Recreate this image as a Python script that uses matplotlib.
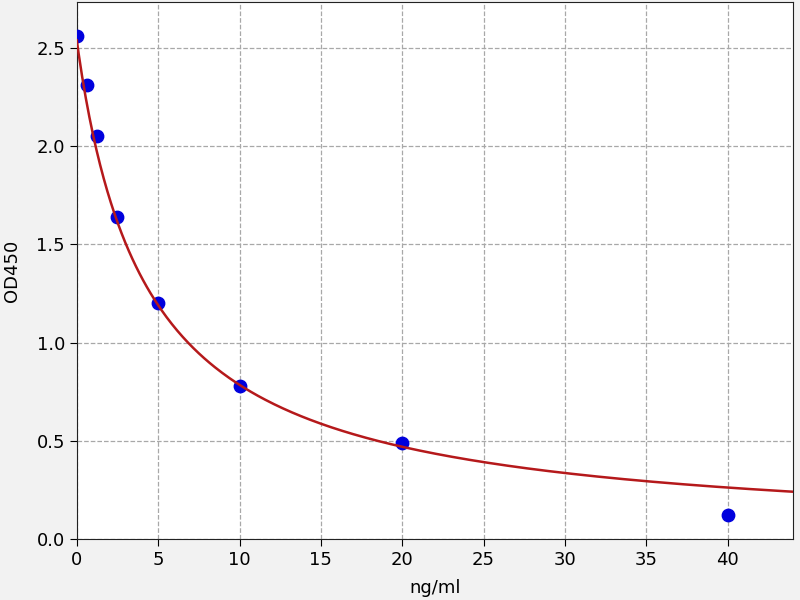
import numpy as np
import matplotlib.pyplot as plt

# Standard concentrations and measured OD
conc = [0, 0.625, 1.25, 2.5, 5, 10, 20, 40]
od450 = [2.56, 2.31, 2.05, 1.64, 1.20, 0.78, 0.49, 0.12]

# Fitted 4PL parameters (top, slope, mid, bottom)
top, slope, mid, bottom = 2.54, 0.98, 4.4, 0.0

def four_pl(x):
	return bottom + (top - bottom) / (1 + (x / mid) ** slope)

fig = plt.figure(figsize=(8, 6), dpi=100, facecolor='#f2f2f2')
ax = fig.add_axes([0.096, 0.1017, 0.895, 0.895])

x_fit = np.linspace(0, 44, 400)
ax.scatter(conc, od450, s=80, color='#0000dd', zorder=3)
ax.plot(x_fit, four_pl(x_fit), color='#b5191b', linewidth=1.8, zorder=4)

ax.set_xlim(0, 44)
ax.set_ylim(0, 2.735)
ax.set_xticks(np.arange(0, 45, 5))
ax.set_yticks(np.arange(0, 2.6, 0.5))
ax.grid(True, linestyle='--', color='#a8a8a8', linewidth=0.9)
ax.set_axisbelow(True)
ax.set_xlabel('ng/ml', fontsize=13, labelpad=7)
ax.set_ylabel('OD450', fontsize=13, labelpad=11)
ax.tick_params(labelsize=13, length=5)
for sp in ax.spines.values():
	sp.set_color('#222222')

fig.savefig('out.png', dpi=100, facecolor=fig.get_facecolor())
